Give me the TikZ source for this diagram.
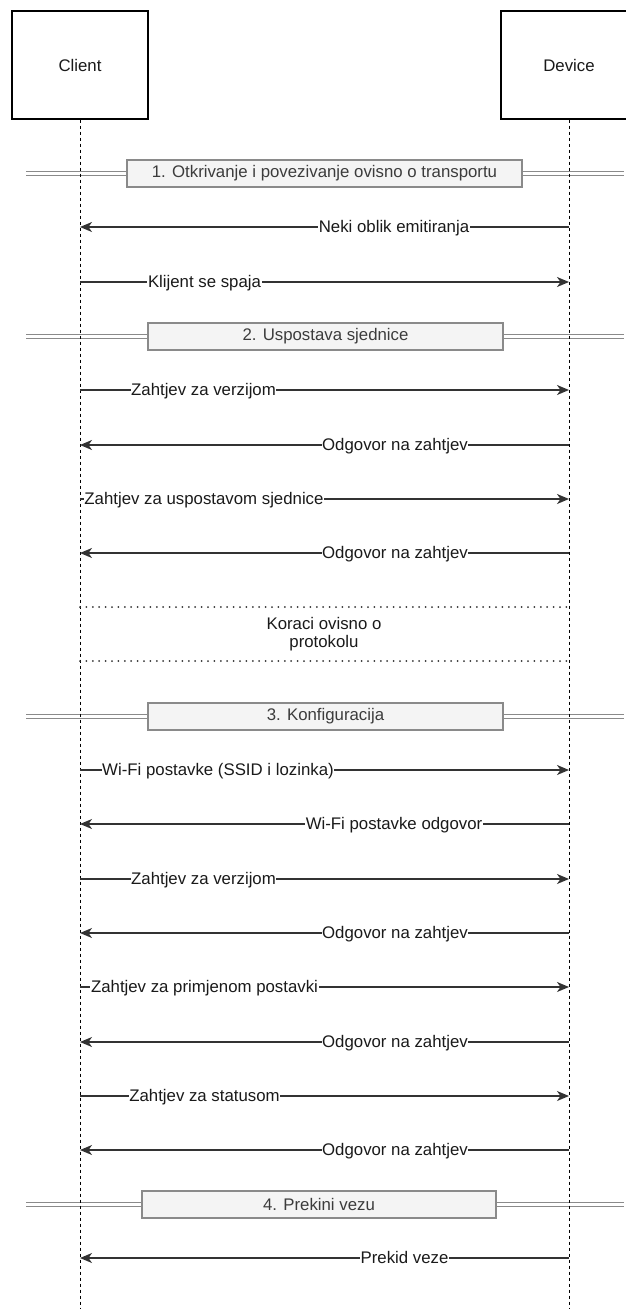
\documentclass[tikz,border=0pt]{standalone}
\usepackage{fontspec}
\setmainfont{Liberation Sans}
\usetikzlibrary{arrows.meta}

\definecolor{msgline}{HTML}{333333}
\definecolor{secfill}{HTML}{F4F4F4}
\definecolor{secdraw}{HTML}{8A8A8A}
\definecolor{txt}{HTML}{1A1A1A}

\newcommand{\labelfont}{\fontsize{16.8}{18}\selectfont}

\begin{document}
\begin{tikzpicture}[x=1pt,y=-1pt,
  actor/.style={draw=black, line width=1.3pt, fill=white, minimum width=136pt,
    minimum height=108pt, inner sep=0pt, text=txt, font=\labelfont},
  lifeline/.style={draw=black, line width=1pt, dash pattern=on 3pt off 3pt},
  msg/.style={draw=msgline, line width=1.3pt, -{Stealth[length=12pt,width=10pt,inset=3.5pt]}},
  msglabel/.style={fill=white, inner sep=0.6pt, anchor=base, text=txt, font=\labelfont},
  secbox/.style={draw=secdraw, fill=secfill, line width=1.1pt, inner sep=0pt,
    minimum height=27pt, text=txt!85, font=\labelfont},
  secrail/.style={draw=secdraw, line width=1.5pt},
  stepsep/.style={draw=msgline, line width=2pt, line cap=round,
    dash pattern=on 0pt off 6.4pt},
  stepnote/.style={align=center, inner sep=0pt, text=txt, font=\labelfont},
]

\useasboundingbox (0,0) rectangle (626,1309);

% participants
\node[actor] (client) at (80,65) {Client};
\node[actor] (device) at (569,65) {Device};

% phase separators: double rails across the whole width
\foreach \cy [count=\k] in {173.5,336.5,716.5,1204.5} {
  \coordinate (rail\k-la) at (26,\cy-2.2);
  \coordinate (rail\k-ra) at (624,\cy-2.2);
  \coordinate (rail\k-lb) at (26,\cy+2.2);
  \coordinate (rail\k-rb) at (624,\cy+2.2);
  \draw[secrail] (rail\k-la) -- (rail\k-ra);
  \draw[secrail] (rail\k-lb) -- (rail\k-rb);
}

% lifelines
\coordinate (client-end) at (80,1309);
\coordinate (device-end) at (569,1309);
\draw[lifeline] (client.south) -- (client-end);
\draw[lifeline] (device.south) -- (device-end);

% phase titles
\node[secbox, minimum width=395pt] (phase1) at (324.5,173.5)
  {1. Otkrivanje i povezivanje ovisno o transportu};
\node[secbox, minimum width=355pt] (phase2) at (325.5,336.5)
  {2. Uspostava sjednice};
\node[secbox, minimum width=355pt] (phase3) at (325.5,716.5)
  {3. Konfiguracija};
\node[secbox, minimum width=354pt] (phase4) at (319,1204.5)
  {4. Prekini vezu};

% messages: y / label centre / from / to / text
\foreach \y/\lx/\src/\dst/\txt [count=\i] in {
    227/394/d/c/Neki oblik emitiranja,
    282/204.5/c/d/Klijent se spaja,
    390/203.5/c/d/Zahtjev za verzijom,
    445/395/d/c/Odgovor na zahtjev,
    499/204/c/d/Zahtjev za uspostavom sjednice,
    553/395/d/c/Odgovor na zahtjev,
    770/218/c/d/Wi-Fi postavke (SSID i lozinka),
    824/394/d/c/Wi-Fi postavke odgovor,
    879/203.5/c/d/Zahtjev za verzijom,
    933/395/d/c/Odgovor na zahtjev,
    987/204.5/c/d/Zahtjev za primjenom postavki,
    1042/395/d/c/Odgovor na zahtjev,
    1096/204.5/c/d/Zahtjev za statusom,
    1150/395/d/c/Odgovor na zahtjev,
    1258/404.5/d/c/Prekid veze} {
  \coordinate (c\i) at (80,\y);
  \coordinate (d\i) at (569,\y);
  \draw[msg] (\src\i) -- (\dst\i);
  \node[msglabel] (m\i) at (\lx,\y+5.8) {\txt};
}

% protocol-specific steps
\coordinate (sepA-l) at (80,607);
\coordinate (sepA-r) at (569,607);
\coordinate (sepB-l) at (80,661);
\coordinate (sepB-r) at (569,661);
\draw[stepsep] (sepA-l) -- (sepA-r);
\draw[stepsep] (sepB-l) -- (sepB-r);
\node[stepnote] (steps) at (324,634) {Koraci ovisno o\\protokolu};

\end{tikzpicture}
\end{document}
